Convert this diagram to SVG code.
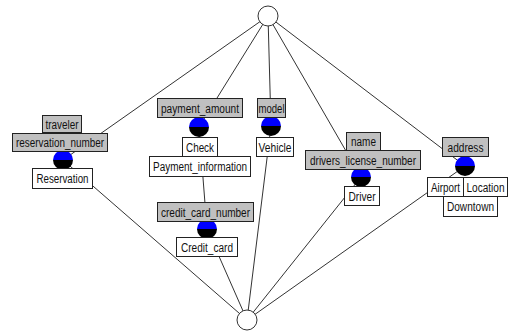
<svg xmlns="http://www.w3.org/2000/svg" width="514" height="331" viewBox="0 0 514 331">
<style>
.c{stroke:#333;stroke-width:1;fill:none}
.g{fill:#c0c0c0;stroke:#222;stroke-width:1}
.w{fill:#fff;stroke:#222;stroke-width:1}
.t{font-family:"Liberation Sans",Arial,sans-serif;font-size:12px;fill:#111;text-anchor:middle}
.o{fill:#fff;stroke:#333;stroke-width:1}
</style>
<defs>
<g id="ball">
<path d="M-10,0 A10,10 0 0 1 10,0 Z" fill="#0000ff"/>
<path d="M-10,0 A10,10 0 0 0 10,0 Z" fill="#000"/>
</g>
</defs>
<rect width="514" height="331" fill="#fff"/>
<g id="connectors">
<line class="c" x1="268" y1="16" x2="63" y2="160"/>
<line class="c" x1="268" y1="16" x2="199" y2="127"/>
<line class="c" x1="268" y1="16" x2="271" y2="126"/>
<line class="c" x1="268" y1="16" x2="361" y2="177"/>
<line class="c" x1="268" y1="16" x2="465" y2="166"/>
<line class="c" x1="199" y1="127" x2="207" y2="229"/>
<line class="c" x1="63" y1="160" x2="247" y2="320"/>
<line class="c" x1="207" y1="229" x2="247" y2="320"/>
<line class="c" x1="271" y1="126" x2="247" y2="320"/>
<line class="c" x1="361" y1="177" x2="247" y2="320"/>
<line class="c" x1="465" y1="166" x2="247" y2="320"/>
</g>
<g id="top"><circle class="o" cx="268" cy="16" r="10"/></g>
<g id="bottom"><circle class="o" cx="247" cy="320" r="10"/></g>
<g id="reservation">
<use href="#ball" x="63" y="160"/>
<rect class="g" x="42.5" y="115.5" width="39" height="17"/>
<text class="t" x="62" y="129" textLength="33" lengthAdjust="spacingAndGlyphs">traveler</text>
<rect class="g" x="12.5" y="133.5" width="95" height="18"/>
<text class="t" x="60" y="147" textLength="88" lengthAdjust="spacingAndGlyphs">reservation_number</text>
<rect class="w" x="32.5" y="168.5" width="60" height="20"/>
<text class="t" x="62.5" y="182.5" textLength="52" lengthAdjust="spacingAndGlyphs">Reservation</text>
</g>
<g id="payment">
<use href="#ball" x="199" y="127"/>
<rect class="g" x="157.5" y="98.5" width="85" height="19"/>
<text class="t" x="200" y="112.5" textLength="78" lengthAdjust="spacingAndGlyphs">payment_amount</text>
<rect class="w" x="182.5" y="137.5" width="35" height="19"/>
<text class="t" x="200" y="151.5" textLength="28" lengthAdjust="spacingAndGlyphs">Check</text>
<rect class="w" x="149.5" y="156.5" width="101" height="20"/>
<text class="t" x="200" y="171" textLength="94" lengthAdjust="spacingAndGlyphs">Payment_information</text>
</g>
<g id="vehicle">
<use href="#ball" x="271" y="126"/>
<rect class="g" x="257.5" y="98.5" width="28" height="19"/>
<text class="t" x="271.5" y="112.5" textLength="26" lengthAdjust="spacingAndGlyphs">model</text>
<rect class="w" x="256.5" y="137.5" width="37" height="19"/>
<text class="t" x="275" y="151.5" textLength="33" lengthAdjust="spacingAndGlyphs">Vehicle</text>
</g>
<g id="credit_card">
<use href="#ball" x="207" y="229"/>
<rect class="g" x="157.5" y="202.5" width="96" height="19"/>
<text class="t" x="205.5" y="216.5" textLength="89" lengthAdjust="spacingAndGlyphs">credit_card_number</text>
<rect class="w" x="176.5" y="237.5" width="61" height="19"/>
<text class="t" x="207" y="251.5" textLength="52" lengthAdjust="spacingAndGlyphs">Credit_card</text>
</g>
<g id="driver">
<use href="#ball" x="361" y="177"/>
<rect class="g" x="346.5" y="132.5" width="34" height="18"/>
<text class="t" x="363.5" y="146" textLength="25" lengthAdjust="spacingAndGlyphs">name</text>
<rect class="g" x="305.5" y="150.5" width="115" height="19"/>
<text class="t" x="363" y="164.5" textLength="106" lengthAdjust="spacingAndGlyphs">drivers_license_number</text>
<rect class="w" x="344.5" y="186.5" width="35" height="19"/>
<text class="t" x="362" y="200.5" textLength="27" lengthAdjust="spacingAndGlyphs">Driver</text>
</g>
<g id="location">
<use href="#ball" x="465" y="166"/>
<rect class="g" x="442.5" y="137.5" width="46" height="19"/>
<text class="t" x="465.5" y="151.5" textLength="36" lengthAdjust="spacingAndGlyphs">address</text>
<rect class="w" x="427.5" y="177.5" width="36" height="19"/>
<text class="t" x="445.5" y="191.5" textLength="29" lengthAdjust="spacingAndGlyphs">Airport</text>
<rect class="w" x="463.5" y="177.5" width="44" height="19"/>
<text class="t" x="485.5" y="191.5" textLength="38" lengthAdjust="spacingAndGlyphs">Location</text>
<rect class="w" x="443.5" y="196.5" width="54" height="20"/>
<text class="t" x="470.5" y="211" textLength="47" lengthAdjust="spacingAndGlyphs">Downtown</text>
</g>
</svg>
